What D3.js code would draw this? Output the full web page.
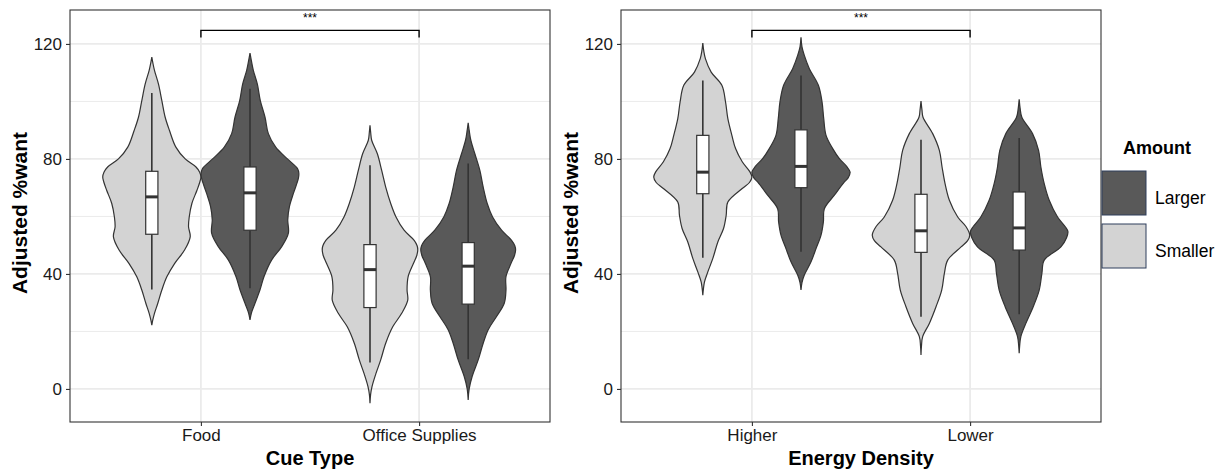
<!DOCTYPE html>
<html lang="en">
<head>
    <meta charset="UTF-8">
    <title>Adjusted %want violins</title>
    <style>
        body { margin: 0; background: #fff; }
        text { font-family: "Liberation Sans", Arial, sans-serif; }
    </style>
    <script type="text/javascript" src="https://d3js.org/d3.v7.min.js"></script>
</head>
<body>
    <script type="text/javascript">

       // categories and groups
       var cueCategories = ["Food", "Office Supplies"];
       var energyCategories = ["Higher", "Lower"];
       var amountGroups = ["Smaller", "Larger"];
       var yTicks = [0, 40, 80, 120];
       var yMinor = [20, 60, 100];

       // violin outlines: [value, relative half width]
       var foodSmallerViolin = [[115.4,0],[113.5,0.02],[110.8,0.054],[106,0.136],[100.3,0.204],[94.5,0.272],[89.9,0.36],[84.1,0.49],[80,0.68],[77.2,0.9],[75.4,0.975],[73.7,1.0],[71.8,0.975],[69.1,0.92],[64.5,0.816],[59.8,0.762],[56.4,0.748],[52.9,0.782],[48.3,0.667],[43.6,0.463],[39,0.306],[34.4,0.204],[29.8,0.122],[26.3,0.054],[24,0.02],[22.2,0]];
       var foodLargerViolin = [[116.8,0],[114,0.03],[110.8,0.068],[106,0.15],[100.3,0.21],[94.5,0.306],[88.8,0.374],[84.1,0.524],[80,0.762],[76.6,0.97],[75,0.995],[73.2,0.985],[68,0.884],[63.4,0.803],[58.8,0.769],[54.2,0.782],[49.5,0.646],[44.9,0.442],[39.1,0.286],[34.5,0.204],[29.8,0.102],[26.5,0.03],[24,0]];
       var officeSmallerViolin = [[91.7,0],[89,0.015],[86.5,0.034],[81.8,0.15],[76,0.238],[70.2,0.32],[64.5,0.422],[59.8,0.53],[55.2,0.694],[51.7,0.9],[49.8,0.96],[48.3,0.973],[46.5,0.955],[43.6,0.884],[39,0.776],[34.4,0.755],[30.9,0.769],[26.3,0.646],[21.6,0.463],[15.9,0.32],[10.1,0.218],[5.4,0.122],[0.8,0.041],[-2,0.012],[-5,0]];
       var officeLargerViolin = [[92.6,0],[90,0.02],[86.5,0.054],[81.8,0.136],[76,0.238],[70.2,0.306],[64.5,0.388],[59.8,0.497],[55.2,0.68],[51.7,0.884],[49.8,0.95],[48.3,0.966],[46.5,0.945],[43.6,0.871],[39,0.769],[34.4,0.77],[29.8,0.735],[25.2,0.578],[20.6,0.408],[15.9,0.306],[10.1,0.204],[4.4,0.082],[0,0.02],[-3.8,0]];
       var higherSmallerViolin = [[120.3,0],[117.5,0.02],[114.8,0.054],[110.2,0.17],[105.6,0.388],[99.8,0.463],[94,0.51],[88.2,0.592],[83.6,0.667],[79,0.803],[75.5,0.96],[73.7,1.0],[71.8,0.95],[69.7,0.803],[65,0.51],[60.4,0.476],[55.8,0.422],[51.1,0.306],[45.4,0.204],[40.7,0.102],[37.2,0.034],[32.6,0]];
       var higherLargerViolin = [[122.3,0],[119,0.02],[116,0.068],[111.4,0.17],[105.6,0.354],[99.8,0.429],[94,0.463],[88.2,0.51],[83.6,0.646],[80.1,0.782],[77.4,0.93],[75.4,1.0],[73.4,0.96],[72,0.884],[67.4,0.68],[62.7,0.476],[58.1,0.456],[53.5,0.408],[48.8,0.306],[44.2,0.204],[39.6,0.068],[37,0.02],[34.4,0]];
       var lowerSmallerViolin = [[100.1,0],[97,0.02],[94.5,0.041],[88.8,0.238],[83,0.374],[77.2,0.429],[71.4,0.49],[65.6,0.578],[59.8,0.748],[56.4,0.918],[53.5,0.993],[51.6,0.95],[49.4,0.816],[44.8,0.544],[40.2,0.476],[34.4,0.422],[28.6,0.306],[22.8,0.17],[18.2,0.034],[15,0.01],[11.8,0]];
       var lowerLargerViolin = [[100.7,0],[97.5,0.02],[94.5,0.054],[88.8,0.272],[83,0.395],[77.2,0.442],[71.4,0.51],[65.6,0.612],[59.8,0.782],[56.4,0.939],[54.7,0.993],[52.6,0.965],[49.4,0.85],[44.8,0.51],[40.2,0.463],[34.4,0.408],[28.6,0.286],[22.8,0.136],[18.2,0.034],[15,0.01],[12.4,0]];

       // boxplot stats: [lower whisker, q1, median, q3, upper whisker]
       var foodSmallerBox = [34.6, 53.8, 66.8, 75.7, 102.9];
       var foodLargerBox = [35, 55.2, 68.2, 77.2, 104.4];
       var officeSmallerBox = [9.2, 28.3, 41.5, 50.2, 77.8];
       var officeLargerBox = [10.3, 29.5, 42.7, 50.9, 78.4];
       var higherSmallerBox = [45.6, 67.9, 75.4, 88.2, 107.3];
       var higherLargerBox = [47.7, 70, 77.4, 90.1, 109];
       var lowerSmallerBox = [25.1, 47.5, 55, 67.7, 86.7];
       var lowerLargerBox = [26, 48.3, 56, 68.5, 87.3];

       var sigLabel = "***";
       var sigLevel = [122.2, 124.7];

       var width = 1226, height = 469;
       var colors = {Smaller: "#d3d3d3", Larger: "#595959"};
       var ink = "#333333";

       var svg = d3.select("body")
                   .append("svg")
                   .attr("width", width)
                   .attr("height", height);

       var yScale = d3.scaleLinear()
                      .domain([-11.5, 131.8])
                      .range([422, 10]);

       function drawPanel(left, right, categories, violins, boxes, xTitle) {
           var g = svg.append("g");
           var xScale = d3.scalePoint()
                          .domain(categories)
                          .range([left, right])
                          .padding(0.6);
           var step = xScale.step();
           var dodge = 0.225 * step;
           var wScale = d3.scaleLinear().domain([0, 1]).range([0, 0.225 * step]);
           var boxHalf = 0.028 * step;

           // grid
           g.selectAll("line.minor").data(yMinor).enter().append("line")
            .attr("x1", left).attr("x2", right)
            .attr("y1", function(d){return yScale(d);}).attr("y2", function(d){return yScale(d);})
            .attr("stroke", "#ebebeb").attr("stroke-width", 1);
           g.selectAll("line.major").data(yTicks).enter().append("line")
            .attr("x1", left).attr("x2", right)
            .attr("y1", function(d){return yScale(d);}).attr("y2", function(d){return yScale(d);})
            .attr("stroke", "#ebebeb").attr("stroke-width", 1.8);
           g.selectAll("line.vmajor").data(categories).enter().append("line")
            .attr("x1", function(d){return xScale(d);}).attr("x2", function(d){return xScale(d);})
            .attr("y1", 10).attr("y2", 422)
            .attr("stroke", "#ebebeb").attr("stroke-width", 1.8);

           // violins
           categories.forEach(function(cat, ci) {
               amountGroups.forEach(function(grp, gi) {
                   var cx = xScale(cat) + (gi === 0 ? -dodge : dodge);
                   var area = d3.area()
                                .curve(d3.curveCatmullRom)
                                .y(function(d){return yScale(d[0]);})
                                .x0(function(d){return cx - wScale(d[1]);})
                                .x1(function(d){return cx + wScale(d[1]);});
                   g.append("path")
                    .attr("d", area(violins[ci][gi]))
                    .attr("fill", colors[grp])
                    .attr("stroke", ink)
                    .attr("stroke-width", 1.2);

                   var b = boxes[ci][gi];
                   g.append("line")
                    .attr("x1", cx).attr("x2", cx)
                    .attr("y1", yScale(b[0])).attr("y2", yScale(b[4]))
                    .attr("stroke", ink).attr("stroke-width", 1.6);
                   g.append("rect")
                    .attr("x", cx - boxHalf).attr("width", boxHalf * 2)
                    .attr("y", yScale(b[3])).attr("height", yScale(b[1]) - yScale(b[3]))
                    .attr("fill", "#ffffff").attr("stroke", ink).attr("stroke-width", 1.2);
                   g.append("line")
                    .attr("x1", cx - boxHalf).attr("x2", cx + boxHalf)
                    .attr("y1", yScale(b[2])).attr("y2", yScale(b[2]))
                    .attr("stroke", ink).attr("stroke-width", 3);
               });
           });

           // significance bracket
           var xa = xScale(categories[0]), xb = xScale(categories[1]);
           g.append("path")
            .attr("d", "M" + xa + "," + yScale(sigLevel[0]) + "V" + yScale(sigLevel[1]) +
                       "H" + xb + "V" + yScale(sigLevel[0]))
            .attr("fill", "none").attr("stroke", "#000").attr("stroke-width", 1.4);
           g.append("text")
            .attr("x", (xa + xb) / 2).attr("y", 22)
            .attr("text-anchor", "middle")
            .style("font-size", "12px")
            .text(sigLabel);

           // border
           g.append("rect")
            .attr("x", left).attr("y", 10)
            .attr("width", right - left).attr("height", 412)
            .attr("fill", "none").attr("stroke", "#333").attr("stroke-width", 1.1);

           // axes
           var yAxis = d3.axisLeft(yScale).tickValues(yTicks).tickSize(4).tickPadding(4);
           var yg = g.append("g").attr("transform", "translate(" + left + ",0)").call(yAxis);
           var xAxis = d3.axisBottom(xScale).tickSize(4).tickPadding(3);
           var xg = g.append("g").attr("transform", "translate(0,422)").call(xAxis);
           [yg, xg].forEach(function(a) {
               a.select(".domain").remove();
               a.selectAll(".tick line").attr("stroke", "#333").attr("stroke-width", 1.1);
               a.selectAll(".tick text").attr("fill", "#1a1a1a")
                .style("font-size", "17px").style("font-family", "'Liberation Sans', Arial, sans-serif");
           });

           g.append("text")
            .attr("x", (left + right) / 2).attr("y", 465)
            .attr("text-anchor", "middle")
            .style("font-size", "20px").style("font-weight", "bold")
            .text(xTitle);
           g.append("text")
            .attr("transform", "translate(" + (left - 43) + "," + 213 + ") rotate(-90)")
            .attr("text-anchor", "middle")
            .style("font-size", "21px").style("font-weight", "bold")
            .text("Adjusted %want");
       }

       drawPanel(70, 550, cueCategories,
                 [[foodSmallerViolin, foodLargerViolin], [officeSmallerViolin, officeLargerViolin]],
                 [[foodSmallerBox, foodLargerBox], [officeSmallerBox, officeLargerBox]],
                 "Cue Type");
       drawPanel(621, 1101, energyCategories,
                 [[higherSmallerViolin, higherLargerViolin], [lowerSmallerViolin, lowerLargerViolin]],
                 [[higherSmallerBox, higherLargerBox], [lowerSmallerBox, lowerLargerBox]],
                 "Energy Density");

       // legend
       var legend = svg.append("g");
       legend.append("text")
             .attr("x", 1123).attr("y", 154)
             .style("font-size", "18px").style("font-weight", "bold")
             .text("Amount");
       var keys = ["Larger", "Smaller"];
       legend.selectAll("rect.key").data(keys).enter().append("rect")
             .attr("x", 1102).attr("y", function(d,i){return 171 + i * 53;})
             .attr("width", 44).attr("height", 44)
             .attr("fill", function(d){return colors[d];})
             .attr("stroke", "#2e3f5c").attr("stroke-width", 1);
       legend.selectAll("text.key").data(keys).enter().append("text")
             .attr("x", 1155).attr("y", function(d,i){return 199 + i * 53;})
             .attr("dominant-baseline", "middle")
             .style("font-size", "17.5px")
             .text(function(d){return d;});

    </script>
</body>
</html>
